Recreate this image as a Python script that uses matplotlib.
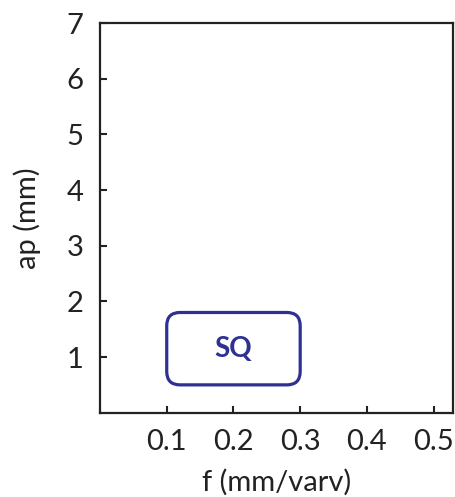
import matplotlib.pyplot as plt
from matplotlib.patches import FancyBboxPatch

# region for SQ (f range, ap range)
f_range = [0.1, 0.3]
ap_range = [0.5, 1.8]
region_label = "SQ"

x_ticks = [0.1, 0.2, 0.3, 0.4, 0.5]
y_ticks = [1, 2, 3, 4, 5, 6, 7]

plt.rcParams['font.family'] = ['Lato', 'DejaVu Sans']

fig = plt.figure(figsize=(4.56, 4.97), dpi=100)
ax = fig.add_axes([100/456, 1 - 412.7/497, 353/456, 389.7/497])

ax.set_xlim(0, 0.529)
ax.set_ylim(0, 7)

box = FancyBboxPatch((f_range[0], ap_range[0]), f_range[1] - f_range[0], ap_range[1] - ap_range[0],
                     boxstyle="round,pad=0,rounding_size=0.02", mutation_aspect=7/0.529*353/389.7,
                     fc='none', ec='#2e3192', lw=2.3)
ax.add_patch(box)
ax.text((f_range[0] + f_range[1]) / 2, (ap_range[0] + ap_range[1]) / 2, region_label,
        ha='center', va='center', color='#2e3192', fontsize=20, fontweight='bold')

ax.set_xticks(x_ticks)
ax.set_xticklabels([str(t) for t in x_ticks])
ax.set_yticks(y_ticks)
ax.tick_params(direction='in', length=5, width=1.5, labelsize=21, colors='#222222', pad=12)
for s in ax.spines.values():
    s.set_linewidth(1.6)
    s.set_color('#222222')

ax.set_xlabel('f (mm/varv)', fontsize=21, color='#222222', labelpad=10)
ax.set_ylabel('ap (mm)', fontsize=21, color='#222222', labelpad=18)

fig.savefig('out.png', dpi=100)
